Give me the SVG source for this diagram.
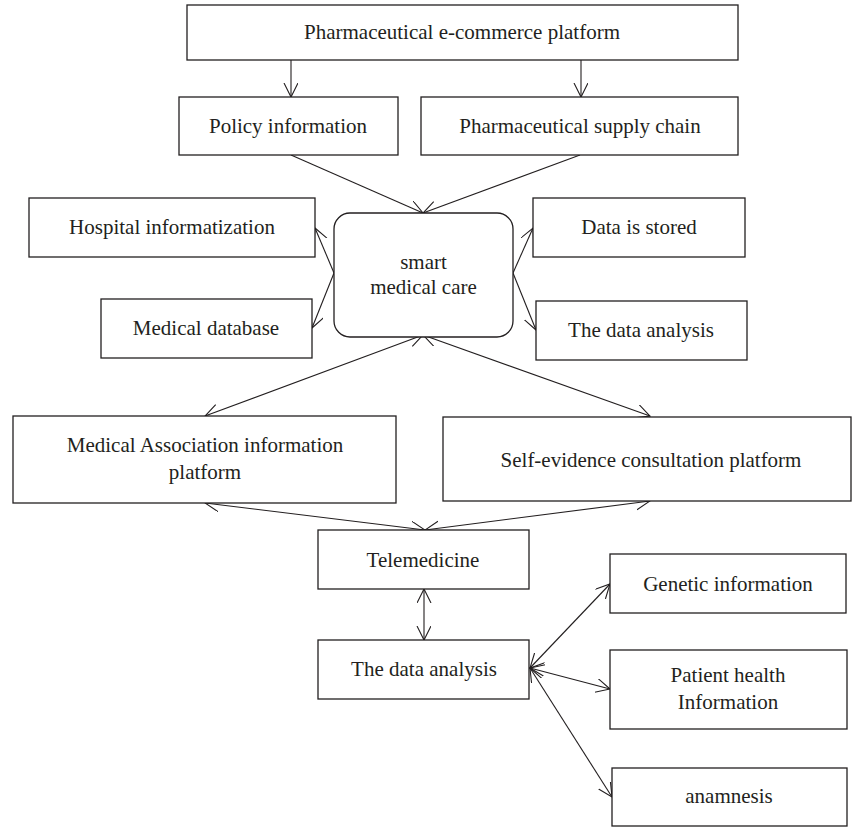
<svg xmlns="http://www.w3.org/2000/svg" width="852" height="827" viewBox="0 0 852 827">
<style>
.box{fill:#fff;stroke:#231f20;stroke-width:1.3}
.t{font-family:"Liberation Serif","Times New Roman",serif;font-size:21px;fill:#231f20;text-anchor:middle}
.c{fill:none;stroke:#231f20;stroke-width:1.1}
.a{marker-end:url(#ah)}
.b{marker-start:url(#ah);marker-end:url(#ah)}
</style>
<defs>
<marker id="ah" markerUnits="userSpaceOnUse" markerWidth="16" markerHeight="16" refX="14" refY="7" orient="auto-start-reverse">
<path d="M0,0 L14,7 L0,14" fill="none" stroke="#231f20" stroke-width="1.1"/>
</marker>
</defs>
<rect width="852" height="827" fill="#fff"/>
<g id="connectors">
<line class="c a" x1="291" y1="60" x2="291" y2="97"/>
<line class="c a" x1="581" y1="60" x2="581" y2="97"/>
<line class="c a" x1="291" y1="155" x2="423" y2="213"/>
<line class="c a" x1="580" y1="155" x2="423" y2="213"/>
<line class="c a" x1="334" y1="273" x2="315" y2="228"/>
<line class="c a" x1="334" y1="273" x2="312" y2="328"/>
<line class="c a" x1="513" y1="273" x2="533" y2="228"/>
<line class="c a" x1="513" y1="273" x2="536" y2="330"/>
<line class="c b" x1="423" y1="335" x2="205" y2="416"/>
<line class="c b" x1="423" y1="335" x2="650" y2="416"/>
<line class="c b" x1="425" y1="530" x2="205" y2="503"/>
<line class="c b" x1="425" y1="530" x2="650" y2="501"/>
<line class="c b" x1="424" y1="589" x2="424" y2="640"/>
<line class="c b" x1="530" y1="668" x2="610" y2="584"/>
<line class="c b" x1="530" y1="668" x2="610" y2="689"/>
<line class="c b" x1="530" y1="668" x2="612" y2="797"/>
</g>
<g id="n-top"><rect class="box" x="187" y="5" width="551" height="55"/><text class="t" x="462" y="39">Pharmaceutical e-commerce platform</text></g>
<g id="n-policy"><rect class="box" x="179" y="97" width="219" height="58"/><text class="t" x="288" y="133">Policy information</text></g>
<g id="n-supply"><rect class="box" x="421" y="97" width="317" height="58"/><text class="t" x="580" y="133">Pharmaceutical supply chain</text></g>
<g id="n-hospital"><rect class="box" x="29" y="198" width="286" height="59"/><text class="t" x="172" y="234">Hospital informatization</text></g>
<g id="n-database"><rect class="box" x="101" y="299" width="211" height="59"/><text class="t" x="206" y="335">Medical database</text></g>
<g id="n-smart"><rect class="box" x="334" y="213" width="179" height="124" rx="16" ry="16"/><text class="t" x="423.5" y="269">smart</text><text class="t" x="423.5" y="294">medical care</text></g>
<g id="n-stored"><rect class="box" x="533" y="198" width="212" height="59"/><text class="t" x="639" y="234">Data is stored</text></g>
<g id="n-analysis1"><rect class="box" x="536" y="301" width="211" height="59"/><text class="t" x="641" y="337">The data analysis</text></g>
<g id="n-association"><rect class="box" x="13" y="416" width="383" height="87"/><text class="t" x="205" y="452">Medical Association information</text><text class="t" x="205" y="479">platform</text></g>
<g id="n-self"><rect class="box" x="443" y="417" width="408" height="84"/><text class="t" x="651" y="467">Self-evidence consultation platform</text></g>
<g id="n-tele"><rect class="box" x="318" y="530" width="211" height="59"/><text class="t" x="423" y="567">Telemedicine</text></g>
<g id="n-analysis2"><rect class="box" x="318" y="640" width="211" height="59"/><text class="t" x="424" y="676">The data analysis</text></g>
<g id="n-genetic"><rect class="box" x="610" y="554" width="236" height="59"/><text class="t" x="728" y="591">Genetic information</text></g>
<g id="n-patient"><rect class="box" x="610" y="650" width="237" height="79"/><text class="t" x="728" y="682">Patient health</text><text class="t" x="728" y="709">Information</text></g>
<g id="n-anamnesis"><rect class="box" x="612" y="768" width="235" height="58"/><text class="t" x="729" y="803">anamnesis</text></g>
</svg>
